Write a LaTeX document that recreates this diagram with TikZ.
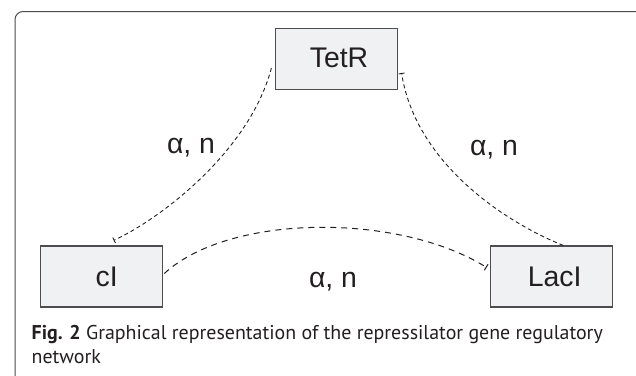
\documentclass[tikz,border=0pt]{standalone}
\usepackage{fontspec}
\setmainfont{Liberation Sans}
\newfontfamily\capfont{PT Sans}
\usetikzlibrary{arrows.meta}
\definecolor{boxfill}{HTML}{F0F1F3}
\definecolor{boxline}{HTML}{4D4D4F}
\definecolor{ink}{HTML}{231F20}
\tikzset{
  gene/.style={draw=boxline, fill=boxfill, line width=1.2bp, minimum width=122bp, minimum height=61bp, inner sep=0pt, text=ink, font=\fontsize{28.5}{30}\selectfont},
  lbl/.style={text=ink, font=\fontsize{28.5}{30}\selectfont, inner sep=0pt},
  repress/.style={draw=ink, line width=0.9bp, dash pattern=on 4bp off 3bp, -{Bar[width=6bp,line width=0.9bp]}},
  represslong/.style={draw=ink, line width=1bp, dash pattern=on 6bp off 5bp, -{Bar[width=7bp,line width=1bp]}},
  captext/.style={anchor=base west, inner sep=0pt, text=ink, font=\capfont\fontsize{20}{23}\selectfont}
}
\begin{document}
\begin{tikzpicture}[x=1bp,y=-1bp]
\useasboundingbox (0,0) rectangle (636,375);
\clip (0,0) rectangle (636,375);
\fill[white] (0,0) rectangle (636,375);
\draw[boxline, line width=1bp, rounded corners=8bp] (15,400) -- (15,11.5) -- (660,11.5);
\node[gene] (tetr) at (336.5,59) {\hspace*{5bp}\raisebox{2bp}{TetR}};
\node[gene] (ci) at (101.7,276.5) {\hspace*{10bp}\raisebox{-2bp}{cI}};
\node[gene] (laci) at (551.2,276.5) {\hspace*{7bp}LacI};
\node[lbl] (l1) at (191,148) {α, n};
\node[lbl] (l2) at (494,150) {α, n};
\node[lbl] (l3) at (333,282) {α, n};
\draw[repress] ([shift={(-3.5,9)}]tetr.west) .. controls (250,150) and (162,218) .. ([shift={(12,-5)}]ci.north);
\draw[repress] ([shift={(12,0)}]laci.north) .. controls (500,220) and (415,160) .. ([shift={(3.5,14)}]tetr.east);
\draw[represslong] ([shift={(1,-3)}]ci.east) .. controls (230,213) and (400,213) .. ([shift={(-3,-9)}]laci.west);
\node[captext] (cap1) at (31.5,339) {\textbf{Fig. 2} Graphical representation of the repressilator gene regulatory};
\node[captext] (cap2) at (31.5,363) {network};
\end{tikzpicture}
\end{document}
